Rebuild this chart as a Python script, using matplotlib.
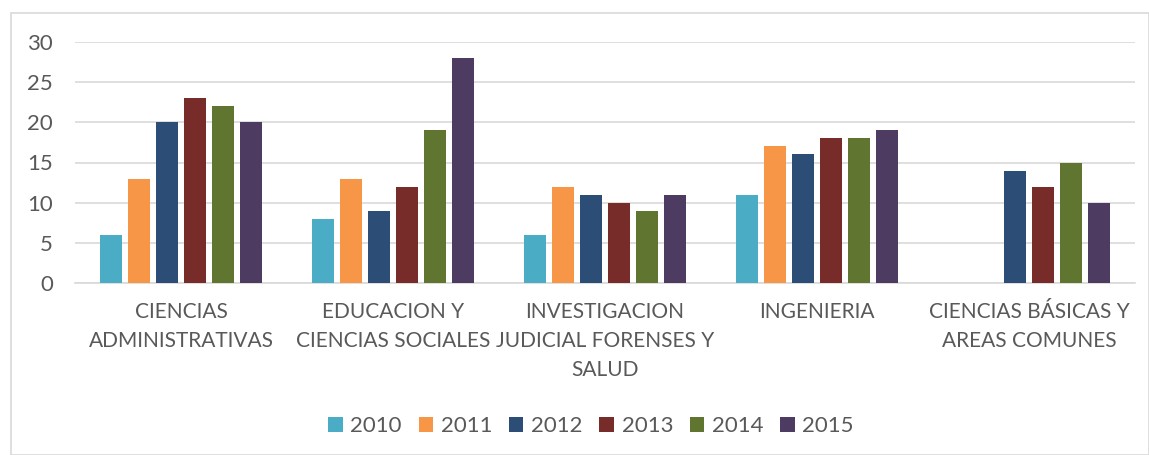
import numpy as np
import matplotlib
matplotlib.use("Agg")
import matplotlib.pyplot as plt
from matplotlib.patches import Rectangle

categories = ["CIENCIAS\nADMINISTRATIVAS", "EDUCACION Y\nCIENCIAS SOCIALES",
              "INVESTIGACION\nJUDICIAL FORENSES Y\nSALUD", "INGENIERIA",
              "CIENCIAS BÁSICAS Y\nAREAS COMUNES"]
years = ["2010", "2011", "2012", "2013", "2014", "2015"]
v2010 = [6, 8, 6, 11, np.nan]
v2011 = [13, 13, 12, 17, np.nan]
v2012 = [20, 9, 11, 16, 14]
v2013 = [23, 12, 10, 18, 12]
v2014 = [22, 19, 9, 18, 15]
v2015 = [20, 28, 11, 19, 10]
series = [v2010, v2011, v2012, v2013, v2014, v2015]
colors = ["#4BACC6", "#F79646", "#2C4D75", "#772C2A", "#5F7530", "#4D3B62"]

plt.rcParams['font.family'] = ['Lato', 'DejaVu Sans']
txt = "#595959"

fig = plt.figure(figsize=(11.49, 4.55), dpi=100)
W, H = 1149, 455
ax = fig.add_axes([75 / W, 1 - 283 / H, (1135 - 75) / W, (283 - 42) / H])

x = np.arange(len(categories))
pitch = 28 / 212
bw = 22 / 212
for i, (vals, c, y) in enumerate(zip(series, colors, years)):
    ax.bar(x + (i - 2.5) * pitch, vals, width=bw, color=c, label=y, zorder=3)

ax.set_xlim(-0.5, len(categories) - 0.5)
ax.set_ylim(0, 30)
ax.set_yticks(range(0, 31, 5))
ax.yaxis.grid(True, color="#D9D9D9", linewidth=1.2, zorder=0)
ax.set_axisbelow(True)
for s in ["top", "right", "left"]:
    ax.spines[s].set_visible(False)
ax.spines["bottom"].set_color("#D9D9D9")
ax.spines["bottom"].set_linewidth(1.2)
ax.tick_params(axis="both", length=0, colors=txt, labelsize=16)
ax.tick_params(axis="y", pad=16)
ax.tick_params(axis="x", pad=14, labelsize=15)
ax.set_xticks(x)
ax.set_xticklabels(categories, linespacing=1.55)

leg = fig.legend(loc="center", bbox_to_anchor=(591 / W, 1 - 426 / H), ncol=6,
                 frameon=False, fontsize=16, handlelength=0.65, handleheight=0.65,
                 handletextpad=0.35, columnspacing=0.75, labelcolor=txt)

fig.patches.append(Rectangle((11 / W, 0), 1 - 11 / W, 1 - 13 / H, transform=fig.transFigure,
                             fill=False, edgecolor="#D9D9D9", linewidth=1.2))

fig.savefig("out.png", dpi=100)
